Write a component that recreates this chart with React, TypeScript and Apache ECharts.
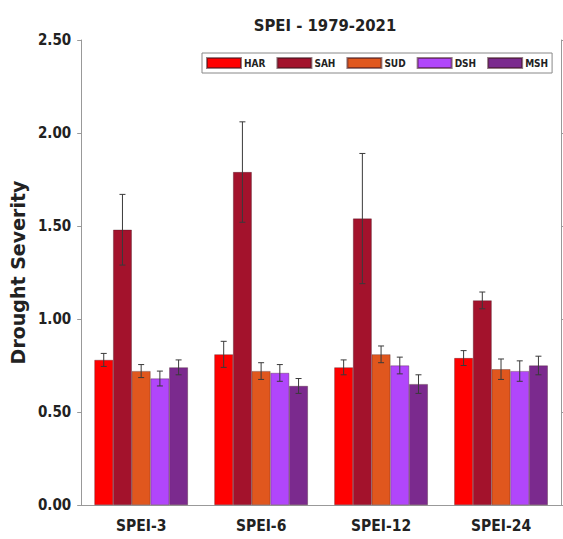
import React, { useEffect, useRef } from "react";
import * as echarts from "echarts";

const categories = ["SPEI-3", "SPEI-6", "SPEI-12", "SPEI-24"];
const seriesNames = ["HAR", "SAH", "SUD", "DSH", "MSH"];
const seriesColors = ["#ff0000", "#a3122c", "#e0571e", "#b146fb", "#7b2a8e"];

const harValues = [0.78, 0.81, 0.74, 0.79];
const sahValues = [1.48, 1.79, 1.54, 1.1];
const sudValues = [0.72, 0.72, 0.81, 0.73];
const dshValues = [0.68, 0.71, 0.75, 0.72];
const mshValues = [0.74, 0.64, 0.65, 0.75];

const harErrors = [0.035, 0.07, 0.04, 0.04];
const sahErrors = [0.19, 0.27, 0.35, 0.045];
const sudErrors = [0.035, 0.045, 0.045, 0.055];
const dshErrors = [0.04, 0.045, 0.045, 0.055];
const mshErrors = [0.04, 0.04, 0.05, 0.05];

const yTicks = [0, 0.5, 1.0, 1.5, 2.0, 2.5];

const allValues = [harValues, sahValues, sudValues, dshValues, mshValues];
const allErrors = [harErrors, sahErrors, sudErrors, dshErrors, mshErrors];

const FONT = "DejaVu Sans Condensed";
const CAT_GAP = 0.22;

export default function App() {
  const ref = useRef<HTMLDivElement>(null);
  useEffect(() => {
    if (!ref.current) return;
    const chart = echarts.init(ref.current, null, { renderer: "svg" });
    const barSeries = seriesNames.map((name, i) => ({
      name,
      type: "bar",
      data: allValues[i],
      barGap: "0%",
      barCategoryGap: CAT_GAP * 100 + "%",
      itemStyle: { color: seriesColors[i], borderColor: "rgba(60,20,30,0.55)", borderWidth: 0.6 },
    }));
    const errSeries = seriesNames.map((name, i) => ({
      name: name + "-err",
      type: "custom",
      z: 5,
      data: allValues[i].map((v, k) => [k, v, allErrors[i][k]]),
      renderItem: (params: any, api: any) => {
        const cat = api.value(0);
        const v = api.value(1);
        const e = api.value(2);
        const band = api.size([1, 0])[0];
        const bw = (band * (1 - CAT_GAP)) / 5;
        const cx = api.coord([cat, v])[0] + (i - 2) * bw;
        const top = api.coord([cat, v + e])[1];
        const bot = api.coord([cat, v - e])[1];
        const cap = 3;
        const st = { stroke: "#3a3a3a", lineWidth: 1 };
        return {
          type: "group",
          children: [
            { type: "line", shape: { x1: cx, y1: top, x2: cx, y2: bot }, style: st },
            { type: "line", shape: { x1: cx - cap, y1: top, x2: cx + cap, y2: top }, style: st },
            { type: "line", shape: { x1: cx - cap, y1: bot, x2: cx + cap, y2: bot }, style: st },
          ],
        };
      },
    }));
    chart.setOption({
      animation: false,
      title: {
        text: "SPEI - 1979-2021",
        left: 320,
        textAlign: "center",
        top: 12,
        textStyle: { fontFamily: FONT, fontSize: 16.5, fontWeight: "bold", color: "#222" },
      },
      legend: {
        data: seriesNames,
        left: 202,
        top: 53,
        width: 352,
        itemWidth: 34,
        itemHeight: 10,
        itemGap: 11,
        padding: [4, 4],
        borderColor: "#888",
        borderWidth: 1,
        icon: "rect",
        textStyle: { fontFamily: FONT, fontSize: 10, fontWeight: "bold", color: "#222", padding: [0, 0, 0, -2] },
      },
      grid: { left: 79, top: 40, width: 482, height: 465 },
      xAxis: [
        {
          type: "category",
          data: categories,
          axisLine: { lineStyle: { color: "#999" } },
          axisTick: { alignWithLabel: true, length: 5, lineStyle: { color: "#999" } },
          axisLabel: { fontFamily: FONT, fontSize: 15.5, fontWeight: "bold", color: "#222", margin: 13 },
        },
        {
          type: "category",
          data: categories,
          position: "top",
          axisLine: { show: true, lineStyle: { color: "#999" } },
          axisTick: { alignWithLabel: true, length: 5, lineStyle: { color: "#999" } },
          axisLabel: { show: false },
        },
      ],
      yAxis: [
        {
          type: "value",
          min: 0,
          max: 2.5,
          interval: 0.5,
          name: "Drought Severity",
          nameLocation: "middle",
          nameGap: 45,
          nameTextStyle: { fontFamily: "DejaVu Sans", fontSize: 19, fontWeight: "bold", color: "#222" },
          splitLine: { show: false },
          axisLine: { show: true, lineStyle: { color: "#999" } },
          axisTick: { show: true, length: 4, lineStyle: { color: "#999" } },
          axisLabel: {
            fontFamily: FONT,
            fontSize: 15,
            fontWeight: "bold",
            color: "#222",
            margin: 10,
            formatter: (v: number) => (yTicks.includes(v) ? v.toFixed(2) : ""),
          },
        },
        {
          type: "value",
          min: 0,
          max: 2.5,
          interval: 0.5,
          position: "right",
          splitLine: { show: false },
          axisLine: { show: true, lineStyle: { color: "#999" } },
          axisTick: { show: true, length: 4, lineStyle: { color: "#999" } },
          axisLabel: { show: false },
        },
      ],
      series: [...barSeries, ...errSeries],
    });
    return () => chart.dispose();
  }, []);
  return <div ref={ref} style={{ width: 563, height: 539, position: "absolute", left: 0, top: 0 }} />;
}
